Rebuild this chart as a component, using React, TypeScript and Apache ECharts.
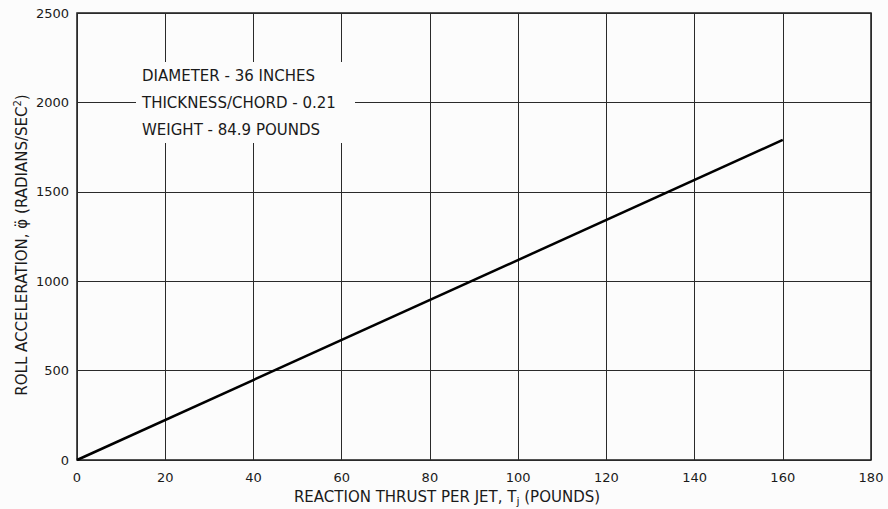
import React, { useEffect, useRef } from "react";
import * as echarts from "echarts";

const xTicks = [0, 20, 40, 60, 80, 100, 120, 140, 160, 180];
const yTicks = [0, 500, 1000, 1500, 2000, 2500];
const thrust = [0, 160];
const rollAccel = [0, 1790];
const notes = ["DIAMETER - 36 INCHES", "THICKNESS/CHORD - 0.21", "WEIGHT - 84.9 POUNDS"];

export default function App() {
  const ref = useRef<HTMLDivElement>(null);
  useEffect(() => {
    if (!ref.current) return;
    const chart = echarts.init(ref.current, undefined, { renderer: "svg" });
    const font = "DejaVu Sans";
    const ink = "#1a1a1a";
    chart.setOption({
      animation: false,
      backgroundColor: "#fcfcfc",
      grid: { left: 77, right: 17, top: 13, bottom: 49, show: true, borderColor: ink, borderWidth: 1.5 },
      xAxis: {
        type: "value",
        min: xTicks[0],
        max: xTicks[xTicks.length - 1],
        interval: 20,
        axisLine: { show: false },
        axisTick: { show: false },
        axisLabel: { color: ink, fontFamily: font, fontSize: 13, margin: 11, formatter: (v: number) => String(v) },
        splitLine: { show: true, lineStyle: { color: "#2a2a2a", width: 1 } },
      },
      yAxis: {
        type: "value",
        min: yTicks[0],
        max: yTicks[yTicks.length - 1],
        interval: 500,
        axisLine: { show: false },
        axisTick: { show: false },
        axisLabel: { color: ink, fontFamily: font, fontSize: 13, margin: 8, formatter: (v: number) => String(v) },
        splitLine: { show: true, lineStyle: { color: "#2a2a2a", width: 1 } },
      },
      series: [
        {
          type: "line",
          data: thrust.map((t, i) => [t, rollAccel[i]]),
          showSymbol: false,
          lineStyle: { color: "#000", width: 2.5 },
          z: 3,
        },
      ],
      graphic: [
        { type: "rect", shape: { x: 136, y: 62, width: 219, height: 81 }, style: { fill: "#fcfcfc" }, z: 10 },
        ...notes.map((n, i) => ({
          type: "text",
          x: 142,
          y: 76 + i * 27,
          z: 11,
          style: { text: n, fill: ink, font: `15px "${font}"`, verticalAlign: "middle" },
        })),
        {
          type: "text",
          x: 447,
          y: 497,
          z: 11,
          style: {
            text: "{a|REACTION THRUST PER JET, T}{s|j}{a| (POUNDS)}",
            align: "center",
            verticalAlign: "middle",
            rich: {
              a: { fontFamily: font, fontSize: 15, fill: ink, color: ink },
              s: { fontFamily: font, fontSize: 11, fill: ink, color: ink, padding: [9, 0, 0, 0] },
            },
          },
        },
        {
          type: "text",
          x: 22,
          y: 245,
          rotation: Math.PI / 2,
          z: 11,
          style: {
            text: "{a|ROLL ACCELERATION, φ̈ (RADIANS/SEC}{s|2}{a|)}",
            align: "center",
            verticalAlign: "middle",
            rich: {
              a: { fontFamily: font, fontSize: 15, fill: ink, color: ink },
              s: { fontFamily: font, fontSize: 10, fill: ink, color: ink, padding: [0, 0, 9, 0] },
            },
          },
        },
      ],
    });
    return () => chart.dispose();
  }, []);
  return <div ref={ref} style={{ width: 888, height: 509, position: "absolute", left: 0, top: 0 }} />;
}
